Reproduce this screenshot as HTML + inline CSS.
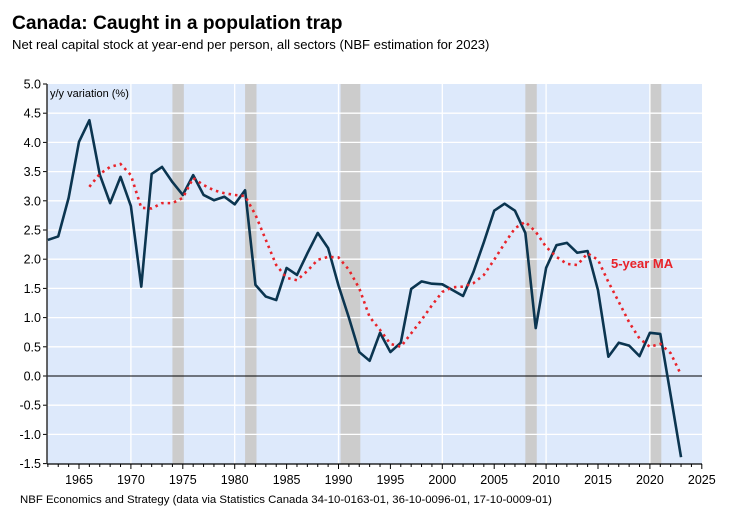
<!DOCTYPE html>
<html><head><meta charset="utf-8"><style>
body{margin:0;background:#fff;}
svg{display:block;font-family:"Liberation Sans",Arial,sans-serif;}
</style></head><body>
<svg id="chart" width="751" height="519" viewBox="0 0 751 519">
<text x="12" y="29" font-size="19.2" font-weight="bold" fill="#000">Canada: Caught in a population trap</text>
<text x="12" y="49" font-size="13.1" fill="#000">Net real capital stock at year-end per person, all sectors (NBF estimation for 2023)</text>
<rect x="47" y="84" width="655" height="380" fill="#dde9fb"/>
<g id="rec"></g>
<g id="grid"></g>
<g id="axes"></g>
<g id="series"></g>
<text x="50" y="97" font-size="11" fill="#000">y/y variation (%)</text>
<text x="611" y="268" font-size="13" font-weight="bold" fill="#e8232a">5-year MA</text>
<text x="20" y="503" font-size="11.4" fill="#000">NBF Economics and Strategy (data via Statistics Canada 34-10-0163-01, 36-10-0096-01, 17-10-0009-01)</text>
</svg>
<script>
const years=[1962,1963,1964,1965,1966,1967,1968,1969,1970,1971,1972,1973,1974,1975,1976,1977,1978,1979,1980,1981,1982,1983,1984,1985,1986,1987,1988,1989,1990,1991,1992,1993,1994,1995,1996,1997,1998,1999,2000,2001,2002,2003,2004,2005,2006,2007,2008,2009,2010,2011,2012,2013,2014,2015,2016,2017,2018,2019,2020,2021,2022,2023];
const growth=[2.33,2.39,3.05,4.01,4.38,3.45,2.96,3.41,2.91,1.53,3.46,3.58,3.32,3.1,3.44,3.1,3.01,3.07,2.94,3.18,1.56,1.36,1.3,1.85,1.73,2.1,2.45,2.19,1.55,1.0,0.41,0.26,0.74,0.41,0.57,1.49,1.62,1.58,1.57,1.47,1.37,1.78,2.29,2.83,2.95,2.83,2.45,0.82,1.85,2.24,2.28,2.11,2.14,1.47,0.33,0.57,0.52,0.34,0.74,0.72,-0.33,-1.39];
const maYears=[1966,1967,1968,1969,1970,1971,1972,1973,1974,1975,1976,1977,1978,1979,1980,1981,1982,1983,1984,1985,1986,1987,1988,1989,1990,1991,1992,1993,1994,1995,1996,1997,1998,1999,2000,2001,2002,2003,2004,2005,2006,2007,2008,2009,2010,2011,2012,2013,2014,2015,2016,2017,2018,2019,2020,2021,2022,2023];
const ma5=[3.24,3.46,3.58,3.63,3.44,2.88,2.87,2.96,2.96,3.05,3.39,3.27,3.18,3.13,3.1,3.08,2.76,2.33,1.9,1.68,1.64,1.8,1.99,2.04,2.03,1.82,1.5,1.01,0.79,0.55,0.5,0.73,0.96,1.21,1.44,1.52,1.53,1.59,1.73,1.99,2.27,2.53,2.64,2.47,2.21,2.04,1.92,1.9,2.1,1.99,1.61,1.27,0.92,0.64,0.5,0.55,0.39,0.02];
const recStart=[1974,1981,1990.2,2008,2020];
const recEnd=[1975.1,1982.1,1992.1,2009.1,2021.1];
const yTicks=[5.0,4.5,4.0,3.5,3.0,2.5,2.0,1.5,1.0,0.5,0.0,-0.5,-1.0,-1.5];
const xLabels=[1965,1970,1975,1980,1985,1990,1995,2000,2005,2010,2015,2020,2025];
const vGrid=[1970,1980,1990,2000,2010,2020];

const NS="http://www.w3.org/2000/svg";
const L=47,R=702,T=84,B=464;
const x=yr=>79+(yr-1965)*10.38;
const y=v=>376-v*58.4;
function mk(tag,attrs,parent){const e=document.createElementNS(NS,tag);for(const k in attrs)e.setAttribute(k,attrs[k]);parent.appendChild(e);return e;}
const rec=document.getElementById('rec'),grid=document.getElementById('grid'),axes=document.getElementById('axes'),series=document.getElementById('series');
recStart.forEach((s,i)=>{const r=mk('rect',{x:x(s),y:T,width:x(recEnd[i])-x(s),height:B-T,fill:'#cccccc'},rec);

});
yTicks.forEach(v=>{
 if(v!==0&&v!==5&&v!==-1.5){const g=mk('line',{x1:L,x2:R,y1:y(v),y2:y(v),stroke:'#fff','stroke-width':1.3},grid);
 
 }
 const t=mk('text',{x:41,y:y(v)+4.5,'font-size':12.5,'text-anchor':'end',fill:'#000'},axes);t.textContent=v.toFixed(1);
 
 
 mk('line',{x1:43,x2:L,y1:y(v),y2:y(v),stroke:'#000','stroke-width':1},axes);
});
vGrid.forEach(yr=>{const g=mk('line',{x1:x(yr),x2:x(yr),y1:T,y2:B,stroke:'#fff','stroke-width':1.3},grid);
 
 });
mk('line',{x1:L,x2:R,y1:y(0),y2:y(0),stroke:'#000','stroke-width':1},axes);
mk('line',{x1:L,x2:L,y1:T,y2:B,stroke:'#333','stroke-width':1.5},axes);
mk('line',{x1:L,x2:R,y1:B,y2:B,stroke:'#000','stroke-width':1.2},axes);
for(let yr=1962;yr<=2025;yr++){mk('line',{x1:x(yr),x2:x(yr),y1:B,y2:B+(yr%5===0?5:3),stroke:'#000','stroke-width':1},axes);}
xLabels.forEach(yr=>{const t=mk('text',{x:x(yr),y:484,'font-size':12.5,'text-anchor':'middle',fill:'#000'},axes);t.textContent=yr;
 
 });
const p1=mk('polyline',{points:years.map((yr,i)=>x(yr)+','+y(growth[i])).join(' '),fill:'none',stroke:'#0b3550','stroke-width':2.6,'stroke-linejoin':'round'},series);


const p2=mk('polyline',{points:maYears.map((yr,i)=>x(yr)+','+y(ma5[i])).join(' '),fill:'none',stroke:'#e8232a','stroke-width':2.6,'stroke-dasharray':'2.5 4'},series);


</script>
</body></html>
